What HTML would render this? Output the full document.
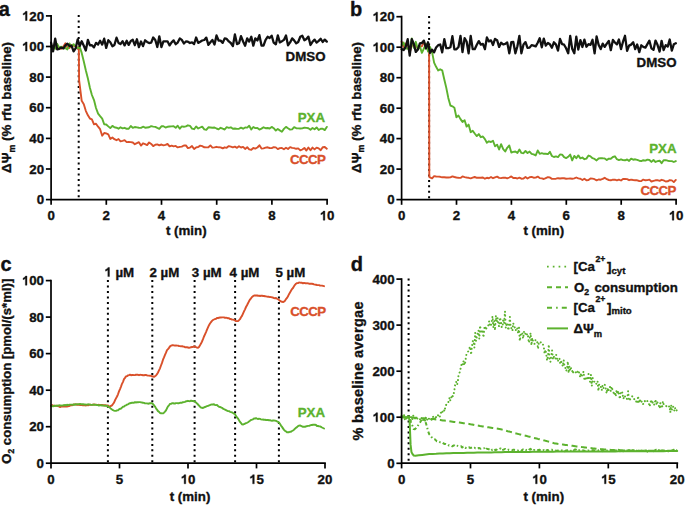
<!DOCTYPE html>
<html><head><meta charset="utf-8"><style>
html,body{margin:0;padding:0;background:#fff;width:685px;height:505px;overflow:hidden}
svg{display:block}
text{font-family:"Liberation Sans",sans-serif;font-weight:bold;stroke-width:0.35px;stroke-linejoin:round}
</style></head><body>
<svg width="685" height="505" viewBox="0 0 685 505" font-family="Liberation Sans, sans-serif" font-weight="bold">
<rect width="685" height="505" fill="#fff"/>
<line x1="78.7" y1="15.1" x2="78.7" y2="199.6" stroke="#000" stroke-width="2" stroke-dasharray="2 3.46"/>
<polyline points="51.1,46.5 53.1,45.8 55.2,47.1 57.2,48.6 59.3,47.6 61.3,48.8 63.4,46.4 65.4,43.3 67.4,47.7 69.5,48 71.5,45.3 73.6,45.7 75.6,46.3 77.7,48.7 78.8,46.5 79.1,80.2 81.7,100.8 83.8,104.2 85.8,110.8 87.9,115.3 89.9,118.5 91.9,119.3 94,124.4 96,123.7 98.1,126.7 100.1,129.2 102.2,135.7 104.2,133 106.2,133.4 108.3,134.3 110.3,139 112.4,137.5 114.4,139.2 116.5,140.2 118.5,139 120.5,141.3 122.6,140.8 124.6,140.2 126.7,142.1 128.7,142 130.8,142.1 132.8,142.5 134.8,144.2 136.9,143.2 138.9,142.2 141,145.6 143,143.3 145.1,144.2 147.1,145.1 149.1,142.4 151.2,143.9 153.2,146.1 155.3,144.8 157.3,144.4 159.3,145.3 161.4,144.5 163.4,145.4 165.5,144.8 167.5,144 169.6,146.4 171.6,145.6 173.6,146.4 175.7,145.9 177.7,147.4 179.8,146.9 181.8,146.6 183.9,145.5 185.9,145.4 187.9,148.1 190,147.6 192,146.1 194.1,149 196.1,147.4 198.2,147 200.2,145.6 202.2,146.2 204.3,147.3 206.3,147.4 208.4,147.3 210.4,145.4 212.4,147.6 214.5,147.4 216.5,146.8 218.6,147.3 220.6,147.4 222.7,148.4 224.7,147.3 226.7,147.8 228.8,146.1 230.8,146.6 232.9,147.4 234.9,146.7 237,147.8 239,146.3 241,147.5 243.1,146.9 245.1,148.9 247.2,147.2 249.2,149.4 251.3,149.8 253.3,148 255.3,148.6 257.4,147.5 259.4,145.3 261.5,148.6 263.5,148.4 265.6,147.6 267.6,147.3 269.6,148 271.7,148.1 273.7,147.2 275.8,147.4 277.8,149.1 279.8,148.1 281.9,148 283.9,149.2 286,147.8 288,149 290.1,147.1 292.1,147.9 294.1,148.1 296.2,148.8 298.2,148.4 300.3,150.4 302.3,149.5 304.4,147.9 306.4,150.6 308.4,147.5 310.5,150.3 312.5,147.6 314.6,149.4 316.6,147.6 318.7,148.4 320.7,150.2 322.7,147.2 324.8,147 326.8,148.7" fill="none" stroke="#d9502a" stroke-width="1.9" stroke-linejoin="round"  stroke-linecap="round"/>
<polyline points="51.1,47.1 53.1,46.9 55.2,48.8 57.2,43.9 59.3,47.8 61.3,46.6 63.4,48.4 65.4,48 67.4,49.5 69.5,43.5 71.5,46.9 73.6,44.2 75.6,46.5 77.7,48.1 79.7,46.9 81.7,52.9 83.8,61.4 85.8,70.3 87.9,78.5 89.9,87.8 91.9,95 94,100.1 96,108 98.1,113.7 100.1,116.2 102.2,118.6 104.2,124.3 106.2,124.5 108.3,126.4 110.3,128.1 112.4,125.9 114.4,127.3 116.5,127.7 118.5,128.7 120.5,127.3 122.6,128.3 124.6,127.8 126.7,128.8 128.7,128.8 130.8,126 132.8,127.9 134.8,127 136.9,127.4 138.9,127.8 141,127.9 143,126.7 145.1,127.7 147.1,127.5 149.1,127.3 151.2,126.1 153.2,126.6 155.3,126.9 157.3,127.9 159.3,128.8 161.4,126.3 163.4,126.3 165.5,127.5 167.5,126.8 169.6,126.5 171.6,126.4 173.6,126.3 175.7,127.8 177.7,125.7 179.8,128.7 181.8,126.4 183.9,126.8 185.9,126.4 187.9,125.3 190,125.8 192,128.6 194.1,129.2 196.1,126.5 198.2,128.5 200.2,127.5 202.2,126.6 204.3,129.3 206.3,129.8 208.4,127.3 210.4,127.5 212.4,127.8 214.5,127.5 216.5,128.5 218.6,129.3 220.6,127.8 222.7,128.7 224.7,129.5 226.7,127.2 228.8,127.8 230.8,127.3 232.9,128.8 234.9,128.5 237,128.9 239,128.8 241,127.6 243.1,128.7 245.1,127.5 247.2,127.6 249.2,125.8 251.3,129.5 253.3,127 255.3,128.1 257.4,128 259.4,129.6 261.5,128.6 263.5,127.3 265.6,128.2 267.6,128 269.6,128.5 271.7,126.9 273.7,128.2 275.8,130.6 277.8,129 279.8,130.4 281.9,131.7 283.9,128.9 286,126.9 288,128.3 290.1,129.6 292.1,129.4 294.1,127.2 296.2,128.2 298.2,128.4 300.3,128.5 302.3,128.4 304.4,127.6 306.4,127.9 308.4,128.3 310.5,129.7 312.5,128 314.6,129.3 316.6,127.4 318.7,130 320.7,128.8 322.7,128.7 324.8,130.1 326.8,126.9" fill="none" stroke="#5cb22e" stroke-width="1.9" stroke-linejoin="round"  stroke-linecap="round"/>
<polyline points="51.1,42.7 53.1,51.4 55.2,38.7 57.2,49.4 59.3,48.8 61.3,47.6 63.4,48.4 65.4,45.4 67.4,43.7 69.5,46.1 71.5,45.6 73.6,51.4 75.6,48.4 77.7,39.3 79.7,46 81.7,41.2 83.8,45.8 85.8,50.5 87.9,39.8 89.9,45.3 91.9,45.2 94,47.4 96,42.9 98.1,44.5 100.1,40.8 102.2,44.6 104.2,38.7 106.2,47.9 108.3,40.2 110.3,42.2 112.4,46.3 114.4,45 116.5,37.7 118.5,42.9 120.5,44.1 122.6,41.2 124.6,45.4 126.7,40.8 128.7,44.9 130.8,41 132.8,39.8 134.8,45.2 136.9,39.3 138.9,47.1 141,41.5 143,46.1 145.1,40.3 147.1,41.9 149.1,43 151.2,42.7 153.2,37.5 155.3,40 157.3,47 159.3,36.3 161.4,47 163.4,41.4 165.5,41.3 167.5,41.3 169.6,45.4 171.6,42.4 173.6,40.4 175.7,44.2 177.7,42.6 179.8,38.5 181.8,39.9 183.9,43.5 185.9,41.5 187.9,41.7 190,43 192,42.4 194.1,44 196.1,37.5 198.2,42.9 200.2,41.8 202.2,40.5 204.3,40 206.3,37.6 208.4,44.9 210.4,42.2 212.4,39.9 214.5,44.5 216.5,35.4 218.6,40.5 220.6,40.6 222.7,42.9 224.7,38.4 226.7,38.9 228.8,41.4 230.8,43 232.9,46 234.9,34.4 237,44.1 239,43.3 241,36.1 243.1,41.5 245.1,45.8 247.2,38.4 249.2,41.6 251.3,36.7 253.3,45.7 255.3,38.4 257.4,40.5 259.4,35.2 261.5,45.6 263.5,45.6 265.6,39.8 267.6,36.8 269.6,38.1 271.7,35.7 273.7,42.7 275.8,44.4 277.8,35.4 279.8,42.4 281.9,41.2 283.9,39.9 286,35.5 288,45.3 290.1,42.4 292.1,38.4 294.1,40.4 296.2,43.4 298.2,42 300.3,36.8 302.3,35.7 304.4,40.3 306.4,39 308.4,36.6 310.5,45 312.5,41.8 314.6,39.6 316.6,42.6 318.7,40.9 320.7,38.8 322.7,42 324.8,39.6 326.8,41.6" fill="none" stroke="#111" stroke-width="2.3" stroke-linejoin="round"  stroke-linecap="round"/>
<path d="M51.1 15.9 V199.6 H327.1" fill="none" stroke="#000" stroke-width="1.7" stroke-linecap="square"/>
<line x1="51.1" y1="199.6" x2="51.1" y2="204.8" stroke="#000" stroke-width="1.7"/>
<text x="51.1" y="220.2" text-anchor="middle" font-size="13.3" fill="#111" stroke="#111" >0</text>
<line x1="106.3" y1="199.6" x2="106.3" y2="204.8" stroke="#000" stroke-width="1.7"/>
<text x="106.3" y="220.2" text-anchor="middle" font-size="13.3" fill="#111" stroke="#111" >2</text>
<line x1="161.5" y1="199.6" x2="161.5" y2="204.8" stroke="#000" stroke-width="1.7"/>
<text x="161.5" y="220.2" text-anchor="middle" font-size="13.3" fill="#111" stroke="#111" >4</text>
<line x1="216.7" y1="199.6" x2="216.7" y2="204.8" stroke="#000" stroke-width="1.7"/>
<text x="216.7" y="220.2" text-anchor="middle" font-size="13.3" fill="#111" stroke="#111" >6</text>
<line x1="271.9" y1="199.6" x2="271.9" y2="204.8" stroke="#000" stroke-width="1.7"/>
<text x="271.9" y="220.2" text-anchor="middle" font-size="13.3" fill="#111" stroke="#111" >8</text>
<line x1="327.1" y1="199.6" x2="327.1" y2="204.8" stroke="#000" stroke-width="1.7"/>
<path transform="translate(319.70,220.20) scale(0.00649,-0.00649)" d="M800 0H545V1020Q400 900 185 840V1080Q300 1120 410 1210Q520 1300 560 1409H800Z" fill="#111" stroke="#111" stroke-width="53.9" stroke-linejoin="round"/>
<text x="327.1" y="220.2" text-anchor="middle" font-size="13.3" fill="#111" stroke="#111" >&#8199;0</text>
<line x1="45.9" y1="199.6" x2="51.1" y2="199.6" stroke="#000" stroke-width="1.7"/>
<text x="44.1" y="204.2" text-anchor="end" font-size="13.3" fill="#111" stroke="#111" >0</text>
<line x1="45.9" y1="169" x2="51.1" y2="169" stroke="#000" stroke-width="1.7"/>
<text x="44.1" y="173.6" text-anchor="end" font-size="13.3" fill="#111" stroke="#111" >20</text>
<line x1="45.9" y1="138.4" x2="51.1" y2="138.4" stroke="#000" stroke-width="1.7"/>
<text x="44.1" y="143" text-anchor="end" font-size="13.3" fill="#111" stroke="#111" >40</text>
<line x1="45.9" y1="107.7" x2="51.1" y2="107.7" stroke="#000" stroke-width="1.7"/>
<text x="44.1" y="112.3" text-anchor="end" font-size="13.3" fill="#111" stroke="#111" >60</text>
<line x1="45.9" y1="77.1" x2="51.1" y2="77.1" stroke="#000" stroke-width="1.7"/>
<text x="44.1" y="81.7" text-anchor="end" font-size="13.3" fill="#111" stroke="#111" >80</text>
<line x1="45.9" y1="46.5" x2="51.1" y2="46.5" stroke="#000" stroke-width="1.7"/>
<path transform="translate(21.91,51.10) scale(0.00649,-0.00649)" d="M800 0H545V1020Q400 900 185 840V1080Q300 1120 410 1210Q520 1300 560 1409H800Z" fill="#111" stroke="#111" stroke-width="53.9" stroke-linejoin="round"/>
<text x="44.1" y="51.1" text-anchor="end" font-size="13.3" fill="#111" stroke="#111" >&#8199;00</text>
<line x1="45.9" y1="15.9" x2="51.1" y2="15.9" stroke="#000" stroke-width="1.7"/>
<path transform="translate(21.91,20.48) scale(0.00649,-0.00649)" d="M800 0H545V1020Q400 900 185 840V1080Q300 1120 410 1210Q520 1300 560 1409H800Z" fill="#111" stroke="#111" stroke-width="53.9" stroke-linejoin="round"/>
<text x="44.1" y="20.5" text-anchor="end" font-size="13.3" fill="#111" stroke="#111" >&#8199;20</text>
<text x="186.3" y="235.4" text-anchor="middle" font-size="13.3" fill="#111" stroke="#111" >t (min)</text>
<text x="325.5" y="61.3" text-anchor="end" font-size="13.3" fill="#111" stroke="#111" >DMSO</text>
<text x="325" y="122.4" text-anchor="end" font-size="13.3" fill="#5cb22e" stroke="#5cb22e" >PXA</text>
<text x="325.4" y="164.3" text-anchor="end" font-size="13.3" fill="#d9502a" stroke="#d9502a" letter-spacing="-0.55">CCCP</text>
<text stroke="#111" fill="#111" transform="translate(11.2,172.9) rotate(-90)" font-size="13.3">&#916;&#936;<tspan font-size="8.8" dy="3.6">m</tspan><tspan dy="-3.6"> (% rfu baseline)</tspan></text>
<text x="-1.2" y="15.8" text-anchor="start" font-size="20" fill="#111" stroke="#111" >a</text>
<line x1="429.1" y1="16.1" x2="429.1" y2="199.6" stroke="#000" stroke-width="2" stroke-dasharray="2 3.46"/>
<polyline points="401.6,41.7 403.6,46.9 405.7,43.6 407.7,44.6 409.7,52.8 411.8,45 413.8,45.8 415.8,45.4 417.9,48.6 419.9,46.4 421.9,46.2 423.9,42.4 426,44.8 428,45.7 429.1,45.7 429.3,177 429.9,177.3 432.1,178.4 434.1,176.1 436.1,176.5 438.2,176.6 440.2,176.8 442.2,177.3 444.3,177.2 446.3,177.5 448.3,177.5 450.4,177.4 452.4,176.4 454.4,177 456.4,177.5 458.5,177.8 460.5,177.9 462.5,176.4 464.6,177.1 466.6,177.5 468.6,177.8 470.7,178.3 472.7,177.6 474.7,177 476.8,177.8 478.8,177.7 480.8,177.7 482.9,177.5 484.9,178.7 486.9,177.8 488.9,178.2 491,177 493,178.2 495,177.3 497.1,176.6 499.1,177.9 501.1,178.1 503.2,177.6 505.2,177.7 507.2,178.4 509.3,177.5 511.3,176.4 513.3,178 515.4,177.9 517.4,178.5 519.4,177.6 521.4,178.7 523.5,178.6 525.5,177 527.5,178.5 529.6,177.2 531.6,176.9 533.6,177.7 535.7,177.6 537.7,176.6 539.7,178.1 541.8,178.4 543.8,179 545.8,178.1 547.9,177.1 549.9,177.5 551.9,178.9 553.9,178.9 556,178.7 558,178.2 560,178.5 562.1,178.3 564.1,178.3 566.1,178.7 568.2,178.6 570.2,178.5 572.2,178.7 574.3,178.4 576.3,177.5 578.3,178.4 580.4,178.8 582.4,180 584.4,178.7 586.4,180.3 588.5,180 590.5,178.5 592.5,178.6 594.6,179.2 596.6,180.4 598.6,179.5 600.7,179.7 602.7,178.9 604.7,177.8 606.8,179.2 608.8,180 610.8,180.3 612.9,179.6 614.9,179.7 616.9,180.4 618.9,179.6 621,180.5 623,179 625,179 627.1,179.1 629.1,180.2 631.1,179.6 633.2,180 635.2,180.3 637.2,180.3 639.3,181 641.3,181.1 643.3,179.6 645.4,180.3 647.4,180.1 649.4,179.6 651.4,181.5 653.5,180.9 655.5,180.3 657.5,180.2 659.6,180.8 661.6,179.8 663.6,180.4 665.7,181.5 667.7,181.3 669.7,180.2 671.8,180.4 673.8,182.1 675.8,179.9" fill="none" stroke="#d9502a" stroke-width="1.9" stroke-linejoin="round"  stroke-linecap="round"/>
<polyline points="401.6,45.1 403.6,42.6 405.7,48.5 407.7,48.2 409.7,51.1 411.8,38.5 413.8,47.8 415.8,41.8 417.9,49.4 419.9,46.6 421.9,52.9 423.9,48.5 426,43.8 428,51.5 430,46.9 432.1,52.1 434.1,62.6 436.1,66.8 438.2,70.4 440.2,69.3 442.2,70.3 444.3,79.5 446.3,87.9 448.3,97.9 450.4,105.5 452.4,106.3 454.4,107.7 456.4,117.3 458.5,115.6 460.5,119.1 462.5,121.9 464.6,120.2 466.6,126.6 468.6,124.6 470.7,132.2 472.7,130.7 474.7,133.5 476.8,136.1 478.8,134.1 480.8,137.2 482.9,136.5 484.9,139.1 486.9,142.7 488.9,141.3 491,142 493,140.8 495,146.3 497.1,144.7 499.1,149.5 501.1,144.2 503.2,149.1 505.2,151.5 507.2,147.8 509.3,145.5 511.3,152.5 513.3,151.9 515.4,151.5 517.4,152.9 519.4,149.6 521.4,152.9 523.5,153.2 525.5,151 527.5,153 529.6,151.6 531.6,153.8 533.6,154.3 535.7,155.4 537.7,150.5 539.7,153.8 541.8,153.2 543.8,153.8 545.8,153.7 547.9,154.1 549.9,151.8 551.9,156 553.9,157 556,156.4 558,157.1 560,154.5 562.1,154.6 564.1,157.2 566.1,158.1 568.2,156.8 570.2,154.5 572.2,160.4 574.3,155.9 576.3,158.2 578.3,155.4 580.4,158.4 582.4,157.5 584.4,159.2 586.4,158.6 588.5,155.5 590.5,156.4 592.5,158.2 594.6,158.9 596.6,160.4 598.6,158.5 600.7,158.1 602.7,158.3 604.7,158.4 606.8,160 608.8,158.6 610.8,158.7 612.9,157 614.9,156.3 616.9,159.2 618.9,160.1 621,159.3 623,160.1 625,160.3 627.1,159.5 629.1,160.9 631.1,158.7 633.2,159.7 635.2,159.3 637.2,159.9 639.3,160.7 641.3,161.1 643.3,160.2 645.4,160.6 647.4,159.6 649.4,160 651.4,161.9 653.5,160 655.5,162 657.5,161.1 659.6,160.7 661.6,163.2 663.6,160.3 665.7,160.2 667.7,160.7 669.7,161.1 671.8,161.1 673.8,162 675.8,161.1" fill="none" stroke="#5cb22e" stroke-width="1.9" stroke-linejoin="round"  stroke-linecap="round"/>
<polyline points="401.6,49.1 403.6,50 405.7,46.8 407.7,39.2 409.7,55.6 411.8,39.1 413.8,43.9 415.8,51.9 417.9,49.4 419.9,43.4 421.9,43 423.9,40.6 426,48.5 428,42.3 430,53 432.1,49.7 434.1,52.3 436.1,47.5 438.2,45.2 440.2,44.5 442.2,52.4 444.3,39.1 446.3,48.2 448.3,48.2 450.4,47.3 452.4,36.1 454.4,49.3 456.4,49.3 458.5,47 460.5,35.8 462.5,52 464.6,38.2 466.6,41.5 468.6,53.3 470.7,35.8 472.7,49.1 474.7,49.2 476.8,44.7 478.8,41.1 480.8,44.6 482.9,43.9 484.9,49.2 486.9,37.5 488.9,41.4 491,40.4 493,45 495,38.9 497.1,40.2 499.1,46.9 501.1,42.7 503.2,44.5 505.2,43.9 507.2,42.4 509.3,53.3 511.3,42.2 513.3,42 515.4,53.3 517.4,46.2 519.4,35.8 521.4,53.3 523.5,44.4 525.5,42.1 527.5,47.9 529.6,47.6 531.6,45.1 533.6,45.6 535.7,46.4 537.7,42.7 539.7,38.2 541.8,47.3 543.8,38.6 545.8,45.6 547.9,43 549.9,44.3 551.9,47.7 553.9,42.3 556,44.6 558,50.6 560,38.9 562.1,44.2 564.1,44.7 566.1,48.3 568.2,53.3 570.2,35.8 572.2,48.8 574.3,53.3 576.3,36.7 578.3,49.6 580.4,40.1 582.4,47 584.4,39.6 586.4,46.7 588.5,44.2 590.5,44.9 592.5,39.8 594.6,53.3 596.6,36.5 598.6,44.7 600.7,49.1 602.7,43.6 604.7,46.9 606.8,43.6 608.8,40.9 610.8,50.2 612.9,39.9 614.9,42.5 616.9,44.4 618.9,39.5 621,49.1 623,41.7 625,35.8 627.1,50.8 629.1,45.6 631.1,44.6 633.2,42.3 635.2,49.1 637.2,44.5 639.3,52.1 641.3,45.3 643.3,46.9 645.4,47.6 647.4,44.1 649.4,40.7 651.4,48.3 653.5,49.9 655.5,40.6 657.5,44.8 659.6,51.6 661.6,40.8 663.6,50.1 665.7,45.1 667.7,46.6 669.7,39.5 671.8,50.6 673.8,44.3 675.8,43.3" fill="none" stroke="#111" stroke-width="2.3" stroke-linejoin="round"  stroke-linecap="round"/>
<path d="M401.6 16.7 V199.6 H676.1" fill="none" stroke="#000" stroke-width="1.7" stroke-linecap="square"/>
<line x1="401.6" y1="199.6" x2="401.6" y2="204.8" stroke="#000" stroke-width="1.7"/>
<text x="401.6" y="220.2" text-anchor="middle" font-size="13.3" fill="#111" stroke="#111" >0</text>
<line x1="456.5" y1="199.6" x2="456.5" y2="204.8" stroke="#000" stroke-width="1.7"/>
<text x="456.5" y="220.2" text-anchor="middle" font-size="13.3" fill="#111" stroke="#111" >2</text>
<line x1="511.4" y1="199.6" x2="511.4" y2="204.8" stroke="#000" stroke-width="1.7"/>
<text x="511.4" y="220.2" text-anchor="middle" font-size="13.3" fill="#111" stroke="#111" >4</text>
<line x1="566.3" y1="199.6" x2="566.3" y2="204.8" stroke="#000" stroke-width="1.7"/>
<text x="566.3" y="220.2" text-anchor="middle" font-size="13.3" fill="#111" stroke="#111" >6</text>
<line x1="621.2" y1="199.6" x2="621.2" y2="204.8" stroke="#000" stroke-width="1.7"/>
<text x="621.2" y="220.2" text-anchor="middle" font-size="13.3" fill="#111" stroke="#111" >8</text>
<line x1="676.1" y1="199.6" x2="676.1" y2="204.8" stroke="#000" stroke-width="1.7"/>
<path transform="translate(668.70,220.20) scale(0.00649,-0.00649)" d="M800 0H545V1020Q400 900 185 840V1080Q300 1120 410 1210Q520 1300 560 1409H800Z" fill="#111" stroke="#111" stroke-width="53.9" stroke-linejoin="round"/>
<text x="676.1" y="220.2" text-anchor="middle" font-size="13.3" fill="#111" stroke="#111" >&#8199;0</text>
<line x1="396.4" y1="199.6" x2="401.6" y2="199.6" stroke="#000" stroke-width="1.7"/>
<text x="394.6" y="204.2" text-anchor="end" font-size="13.3" fill="#111" stroke="#111" >0</text>
<line x1="396.4" y1="169.1" x2="401.6" y2="169.1" stroke="#000" stroke-width="1.7"/>
<text x="394.6" y="173.7" text-anchor="end" font-size="13.3" fill="#111" stroke="#111" >20</text>
<line x1="396.4" y1="138.6" x2="401.6" y2="138.6" stroke="#000" stroke-width="1.7"/>
<text x="394.6" y="143.2" text-anchor="end" font-size="13.3" fill="#111" stroke="#111" >40</text>
<line x1="396.4" y1="108.2" x2="401.6" y2="108.2" stroke="#000" stroke-width="1.7"/>
<text x="394.6" y="112.8" text-anchor="end" font-size="13.3" fill="#111" stroke="#111" >60</text>
<line x1="396.4" y1="77.7" x2="401.6" y2="77.7" stroke="#000" stroke-width="1.7"/>
<text x="394.6" y="82.3" text-anchor="end" font-size="13.3" fill="#111" stroke="#111" >80</text>
<line x1="396.4" y1="47.2" x2="401.6" y2="47.2" stroke="#000" stroke-width="1.7"/>
<path transform="translate(372.41,51.80) scale(0.00649,-0.00649)" d="M800 0H545V1020Q400 900 185 840V1080Q300 1120 410 1210Q520 1300 560 1409H800Z" fill="#111" stroke="#111" stroke-width="53.9" stroke-linejoin="round"/>
<text x="394.6" y="51.8" text-anchor="end" font-size="13.3" fill="#111" stroke="#111" >&#8199;00</text>
<line x1="396.4" y1="16.7" x2="401.6" y2="16.7" stroke="#000" stroke-width="1.7"/>
<path transform="translate(372.41,21.32) scale(0.00649,-0.00649)" d="M800 0H545V1020Q400 900 185 840V1080Q300 1120 410 1210Q520 1300 560 1409H800Z" fill="#111" stroke="#111" stroke-width="53.9" stroke-linejoin="round"/>
<text x="394.6" y="21.3" text-anchor="end" font-size="13.3" fill="#111" stroke="#111" >&#8199;20</text>
<text x="543.8" y="235.4" text-anchor="middle" font-size="13.3" fill="#111" stroke="#111" >t (min)</text>
<text x="676.5" y="66.6" text-anchor="end" font-size="13.3" fill="#111" stroke="#111" >DMSO</text>
<text x="676.5" y="153.4" text-anchor="end" font-size="13.3" fill="#5cb22e" stroke="#5cb22e" >PXA</text>
<text x="675.9" y="194.8" text-anchor="end" font-size="13.3" fill="#d9502a" stroke="#d9502a" letter-spacing="-0.55">CCCP</text>
<text stroke="#111" fill="#111" transform="translate(360.5,172.9) rotate(-90)" font-size="13.3">&#916;&#936;<tspan font-size="8.8" dy="3.6">m</tspan><tspan dy="-3.6"> (% rfu baseline)</tspan></text>
<text x="350.1" y="15.6" text-anchor="start" font-size="20" fill="#111" stroke="#111" >b</text>
<line x1="107.9" y1="280.1" x2="107.9" y2="463.2" stroke="#000" stroke-width="2" stroke-dasharray="2 3.46"/>
<line x1="152.3" y1="280.1" x2="152.3" y2="463.2" stroke="#000" stroke-width="2" stroke-dasharray="2 3.46"/>
<line x1="194.6" y1="280.1" x2="194.6" y2="463.2" stroke="#000" stroke-width="2" stroke-dasharray="2 3.46"/>
<line x1="235.1" y1="280.1" x2="235.1" y2="463.2" stroke="#000" stroke-width="2" stroke-dasharray="2 3.46"/>
<line x1="278.9" y1="280.1" x2="278.9" y2="463.2" stroke="#000" stroke-width="2" stroke-dasharray="2 3.46"/>
<polyline points="51,405.7 52,405 53,405.6 54,405.6 55,405.8 56,405.9 57,405.7 58,406.2 59,406.2 60,407.1 61,406.6 62,406.5 63,406.6 64,406.6 65,406.5 66,406.6 67,406.6 68,406.2 69,406.1 70,405.6 71,405.4 72,405.3 73,404.9 74,404.4 75,404.4 76,404.5 77,404.8 78,404.5 79,404.7 80,405 81,404.8 82,405.1 83,405.4 84,405.4 85,405.4 86,405.5 87,404.8 88,405.4 89,404.9 90,404.7 91,404.9 92,404.9 93,404.6 94,404.4 95,404.6 96,404.6 97,404.9 98,404.9 99,404.8 100,405.1 101,404.9 102,404.9 103,405.2 104,405.3 105,405.3 106,405.3 107,405.7 108,405.5 109,406.4 110,406.6 111,405.9 112,405.4 113,404 114,402.7 115,400.3 116,398.4 117,396.5 118,394.3 119,391.4 120,389.1 121,386.6 122,383.8 123,381.8 124,379.2 125,377.9 126,376.4 127,376.1 128,375.4 129,375.1 130,374.6 131,375.2 132,375 133,375 134,375.1 135,375 136,374.8 137,374.8 138,374.8 139,375.2 140,374.8 141,374.9 142,375 143,375.2 144,375.3 145,375 146,375 147,375.3 148,375.6 149,375.6 150,375.7 151,375.8 152,376.3 153,376.5 154,376.9 155,376.2 156,375.5 157,374.2 158,372.5 159,370.3 160,368.3 161,365.5 162,362.9 163,359.7 164,357.4 165,354.9 166,352.7 167,350.2 168,349.2 169,347.9 170,346.4 171,345.7 172,345.3 173,345.3 174,345.4 175,345.7 176,345.4 177,345.6 178,345.6 179,346 180,346.1 181,346.4 182,346.1 183,346.5 184,346.6 185,347.2 186,347.3 187,347.3 188,347.5 189,347.8 190,347.6 191,347.2 192,347 193,347 194,346.4 195,346.7 196,347.2 197,347.6 198,347.7 199,346.9 200,345.3 201,343.6 202,341.5 203,339.2 204,336.5 205,334.3 206,332.1 207,329.6 208,327.4 209,325.2 210,323.5 211,322.2 212,320.9 213,320 214,319.5 215,319 216,318.9 217,317.9 218,318.2 219,317.7 220,317.5 221,317.5 222,317.4 223,317.4 224,317.4 225,317.9 226,317.7 227,317.9 228,318.3 229,318.2 230,319 231,319 232,319.6 233,319.6 234,319.9 235,320.5 236,321.1 237,321.1 238,321.1 239,320.2 240,319.2 241,317.3 242,315.9 243,313.6 244,311.4 245,309.3 246,307 247,305.2 248,303.3 249,301.3 250,299.6 251,298.3 252,297 253,296.2 254,295.7 255,295.3 256,295.7 257,295.3 258,295.8 259,295.7 260,296 261,295.8 262,295.7 263,296 264,296 265,296.2 266,296.4 267,296.6 268,296.7 269,296.8 270,297.1 271,297 272,297.5 273,297.5 274,298.1 275,298.3 276,298 277,298.7 278,299.3 279,299.9 280,300.9 281,301.5 282,301.7 283,302.1 284,301.6 285,300.7 286,299.1 287,297.9 288,296.3 289,294.2 290,292.5 291,290.8 292,289.1 293,288 294,286.3 295,284.8 296,283.7 297,283.1 298,283.1 299,282.5 300,282.6 301,282.8 302,282.8 303,283.3 304,282.9 305,283.2 306,283.2 307,283.4 308,283.2 309,283.8 310,283.6 311,283.8 312,283.8 313,284 314,284.4 315,284.6 316,284.8 317,285 318,285.1 319,285.1 320,285.5 321,285.6 322,285.6 323,285.9 324,286.2" fill="none" stroke="#d9502a" stroke-width="1.9" stroke-linejoin="round"  stroke-linecap="round"/>
<polyline points="51,406 52,406.1 53,406.3 54,406.1 55,405.6 56,405.8 57,405.6 58,405.7 59,405.3 60,405.5 61,405.5 62,405.6 63,405.3 64,405.3 65,404.9 66,405.5 67,404.7 68,405.1 69,404.8 70,404.6 71,404.6 72,404.6 73,404.7 74,404.5 75,404.8 76,404.1 77,404.4 78,404.2 79,404.4 80,403.9 81,404.2 82,404.3 83,404.1 84,404.5 85,404.4 86,404.6 87,404.7 88,404.3 89,404.4 90,404.6 91,404.8 92,404.9 93,404.7 94,404.8 95,404.8 96,404.9 97,405 98,405.1 99,405.6 100,405.2 101,405.3 102,405.5 103,405.4 104,405.6 105,405.7 106,405.9 107,405.7 108,406.6 109,406.9 110,407.8 111,408.8 112,409.5 113,410.2 114,410.6 115,410.9 116,410.9 117,410.4 118,410.3 119,409.4 120,408.7 121,408.7 122,407.6 123,406.7 124,406.6 125,405.6 126,405.3 127,404.6 128,404.3 129,403.6 130,403.2 131,403 132,402.8 133,402.7 134,402.8 135,402.1 136,402.5 137,402.2 138,402.3 139,402.1 140,402.1 141,402.4 142,402.5 143,402.8 144,402.9 145,403.4 146,403.4 147,403.4 148,403.7 149,403.5 150,403.3 151,403.1 152,403.3 153,404.1 154,405.2 155,406.6 156,408.3 157,409.6 158,411.1 159,411.8 160,413 161,413.2 162,413.4 163,413.4 164,412.7 165,411.7 166,410.4 167,408.3 168,406.4 169,405.3 170,403.9 171,403.9 172,403.2 173,403.1 174,403.5 175,403.5 176,403.1 177,403.1 178,403.2 179,403.2 180,402.8 181,402.7 182,402.7 183,402.2 184,402.1 185,401.9 186,401.3 187,401.2 188,400.8 189,401.1 190,401.2 191,400.6 192,401 193,401 194,401.1 195,401.8 196,402.6 197,403.4 198,404.5 199,405.6 200,406.7 201,407.6 202,407.8 203,408 204,407.4 205,407 206,406.6 207,406.2 208,405.8 209,405.5 210,405 211,404.7 212,404.4 213,404.5 214,404.3 215,405 216,405.1 217,405 218,406 219,406.8 220,407 221,407.4 222,407.8 223,408.7 224,409.2 225,409.6 226,410.1 227,410.7 228,411.1 229,411.1 230,411.8 231,412.1 232,412.4 233,413 234,413.6 235,414.1 236,416.1 237,417.3 238,418.6 239,420.2 240,421.9 241,423 242,424.3 243,424.5 244,424.2 245,423.6 246,423.1 247,422.8 248,422.2 249,421.5 250,420.8 251,420 252,419.7 253,419.3 254,418.4 255,418.7 256,418.2 257,418.7 258,419 259,418.8 260,418.9 261,419.4 262,419.6 263,419.5 264,419.9 265,419.6 266,420.1 267,419.9 268,420 269,420.2 270,420.2 271,420.6 272,420.7 273,420.5 274,420.5 275,420.6 276,420.9 277,421.4 278,421.8 279,422.6 280,423.9 281,425.6 282,426.9 283,428.4 284,429.9 285,430.8 286,431.3 287,432.3 288,432.3 289,432.3 290,431.7 291,431.7 292,431 293,430.5 294,429.7 295,428.7 296,427.8 297,427.1 298,426.1 299,425.6 300,425.5 301,425.9 302,426.3 303,426.8 304,426.6 305,426.8 306,426.3 307,426.2 308,425.9 309,425.9 310,425.5 311,425 312,425 313,424.8 314,424.7 315,424.8 316,425 317,426 318,425.9 319,426.4 320,426.4 321,426.9 322,427.5 323,428 324,428.5" fill="none" stroke="#5cb22e" stroke-width="1.9" stroke-linejoin="round"  stroke-linecap="round"/>
<path d="M51 280.6 V463.2 H325" fill="none" stroke="#000" stroke-width="1.7" stroke-linecap="square"/>
<line x1="51" y1="463.2" x2="51" y2="468.4" stroke="#000" stroke-width="1.7"/>
<text x="51" y="483.8" text-anchor="middle" font-size="13.3" fill="#111" stroke="#111" >0</text>
<line x1="119.5" y1="463.2" x2="119.5" y2="468.4" stroke="#000" stroke-width="1.7"/>
<text x="119.5" y="483.8" text-anchor="middle" font-size="13.3" fill="#111" stroke="#111" >5</text>
<line x1="188" y1="463.2" x2="188" y2="468.4" stroke="#000" stroke-width="1.7"/>
<path transform="translate(180.60,483.80) scale(0.00649,-0.00649)" d="M800 0H545V1020Q400 900 185 840V1080Q300 1120 410 1210Q520 1300 560 1409H800Z" fill="#111" stroke="#111" stroke-width="53.9" stroke-linejoin="round"/>
<text x="188" y="483.8" text-anchor="middle" font-size="13.3" fill="#111" stroke="#111" >&#8199;0</text>
<line x1="256.5" y1="463.2" x2="256.5" y2="468.4" stroke="#000" stroke-width="1.7"/>
<path transform="translate(249.10,483.80) scale(0.00649,-0.00649)" d="M800 0H545V1020Q400 900 185 840V1080Q300 1120 410 1210Q520 1300 560 1409H800Z" fill="#111" stroke="#111" stroke-width="53.9" stroke-linejoin="round"/>
<text x="256.5" y="483.8" text-anchor="middle" font-size="13.3" fill="#111" stroke="#111" >&#8199;5</text>
<line x1="325" y1="463.2" x2="325" y2="468.4" stroke="#000" stroke-width="1.7"/>
<text x="325" y="483.8" text-anchor="middle" font-size="13.3" fill="#111" stroke="#111" >20</text>
<line x1="45.8" y1="463.2" x2="51" y2="463.2" stroke="#000" stroke-width="1.7"/>
<text x="44" y="467.8" text-anchor="end" font-size="13.3" fill="#111" stroke="#111" >0</text>
<line x1="45.8" y1="426.7" x2="51" y2="426.7" stroke="#000" stroke-width="1.7"/>
<text x="44" y="431.3" text-anchor="end" font-size="13.3" fill="#111" stroke="#111" >20</text>
<line x1="45.8" y1="390.2" x2="51" y2="390.2" stroke="#000" stroke-width="1.7"/>
<text x="44" y="394.8" text-anchor="end" font-size="13.3" fill="#111" stroke="#111" >40</text>
<line x1="45.8" y1="353.6" x2="51" y2="353.6" stroke="#000" stroke-width="1.7"/>
<text x="44" y="358.2" text-anchor="end" font-size="13.3" fill="#111" stroke="#111" >60</text>
<line x1="45.8" y1="317.1" x2="51" y2="317.1" stroke="#000" stroke-width="1.7"/>
<text x="44" y="321.7" text-anchor="end" font-size="13.3" fill="#111" stroke="#111" >80</text>
<line x1="45.8" y1="280.6" x2="51" y2="280.6" stroke="#000" stroke-width="1.7"/>
<path transform="translate(21.81,285.20) scale(0.00649,-0.00649)" d="M800 0H545V1020Q400 900 185 840V1080Q300 1120 410 1210Q520 1300 560 1409H800Z" fill="#111" stroke="#111" stroke-width="53.9" stroke-linejoin="round"/>
<text x="44" y="285.2" text-anchor="end" font-size="13.3" fill="#111" stroke="#111" >&#8199;00</text>
<text x="190" y="501.4" text-anchor="middle" font-size="13.3" fill="#111" stroke="#111" >t (min)</text>
<path transform="translate(104.30,276.60) scale(0.00649,-0.00649)" d="M800 0H545V1020Q400 900 185 840V1080Q300 1120 410 1210Q520 1300 560 1409H800Z" fill="#111" stroke="#111" stroke-width="53.9" stroke-linejoin="round"/>
<text x="104.3" y="276.6" text-anchor="start" font-size="13.3" fill="#111" stroke="#111" >&#8199; &#181;M</text>
<text x="149.5" y="276.6" text-anchor="start" font-size="13.3" fill="#111" stroke="#111" >2 &#181;M</text>
<text x="191.8" y="276.6" text-anchor="start" font-size="13.3" fill="#111" stroke="#111" >3 &#181;M</text>
<text x="229.6" y="276.6" text-anchor="start" font-size="13.3" fill="#111" stroke="#111" >4 &#181;M</text>
<text x="275.5" y="276.6" text-anchor="start" font-size="13.3" fill="#111" stroke="#111" >5 &#181;M</text>
<text x="325.7" y="316.1" text-anchor="end" font-size="13.3" fill="#d9502a" stroke="#d9502a" letter-spacing="-0.55">CCCP</text>
<text x="325" y="416.5" text-anchor="end" font-size="13.3" fill="#5cb22e" stroke="#5cb22e" >PXA</text>
<text stroke="#111" fill="#111" transform="translate(10.8,463.8) rotate(-90)" font-size="13.15">O<tspan font-size="8.5" dy="3.4">2</tspan><tspan dy="-3.4"> consumption [pmol/(s*ml)]</tspan></text>
<text x="0.4" y="270.6" text-anchor="start" font-size="20" fill="#111" stroke="#111" >c</text>
<line x1="408.6" y1="278.5" x2="408.6" y2="463.2" stroke="#000" stroke-width="2" stroke-dasharray="2 3.46"/>
<polyline points="401.6,417.2 402.3,417.2 403,417.2 403.7,417.2 404.4,417.2 405,417.2 405.7,417.2 406.4,417.2 407.1,417.2 407.8,417.2 408.8,417.2 409.6,420.9 410.6,444.9 411.5,452.1 412.6,454.2 413.7,455.5 415.4,455.7 418.8,455.3 422.3,454.9 425.7,454.5 429.2,454.1 432.6,453.9 436.1,453.8 439.5,453.6 442.9,453.5 446.4,453.3 449.8,453.2 453.3,453.1 456.7,453 460.2,452.9 463.6,452.9 467.1,452.8 470.5,452.7 473.9,452.7 477.4,452.6 480.8,452.5 484.3,452.5 487.7,452.4 491.2,452.4 494.6,452.3 498.1,452.2 501.5,452.2 505,452.1 508.4,452.1 511.8,452 515.3,452 518.7,452 522.2,451.9 525.6,451.9 529.1,451.9 532.5,451.8 536,451.8 539.4,451.8 542.8,451.8 546.3,451.7 549.7,451.7 553.2,451.7 556.6,451.6 560.1,451.6 563.5,451.6 567,451.6 570.4,451.5 573.9,451.5 577.3,451.5 580.7,451.5 584.2,451.5 587.6,451.5 591.1,451.5 594.5,451.4 598,451.4 601.4,451.4 604.9,451.4 608.3,451.4 611.7,451.4 615.2,451.4 618.6,451.3 622.1,451.3 625.5,451.3 629,451.3 632.4,451.3 635.9,451.3 639.3,451.3 642.8,451.2 646.2,451.2 649.6,451.2 653.1,451.2 656.5,451.2 660,451.2 663.4,451.2 666.9,451.1 670.3,451.1 673.8,451.1 677.2,451.1" fill="none" stroke="#5cb22e" stroke-width="2.0" stroke-linejoin="round"  stroke-linecap="round"/>
<polyline points="401.6,417.2 403,417.3 404.4,417.3 405.7,417.4 407.1,417.4 408.5,417.5 409.9,417.5 411.2,417.6 412.6,417.6 414,417.7 415.4,417.7 416.8,417.8 418.1,417.9 419.5,418 420.9,418.1 422.3,418.2 423.6,418.3 425,418.4 426.4,418.5 427.8,418.6 429.2,418.7 430.5,418.9 431.9,419 433.3,419.1 434.7,419.3 436.1,419.5 437.4,419.6 438.8,419.8 440.2,420 441.6,420.2 442.9,420.4 444.3,420.6 445.7,420.8 447.1,421 448.5,421.1 449.8,421.3 451.2,421.5 452.6,421.7 454,421.9 455.3,422.1 456.7,422.3 458.1,422.4 459.5,422.6 460.9,422.8 462.2,423 463.6,423.2 465,423.4 466.4,423.6 467.7,423.7 469.1,423.9 470.5,424.2 471.9,424.4 473.3,424.7 474.6,425 476,425.2 477.4,425.5 478.8,425.7 480.1,426 481.5,426.2 482.9,426.4 484.3,426.6 485.7,426.9 487,427.1 488.4,427.3 489.8,427.5 491.2,427.7 492.5,427.9 493.9,428.1 495.3,428.4 496.7,428.6 498.1,428.8 499.4,429 500.8,429.2 502.2,429.6 503.6,430 505,430.4 506.3,430.8 507.7,431.2 509.1,431.5 510.5,431.9 511.8,432.3 513.2,432.7 514.6,433.1 516,433.4 517.4,433.8 518.7,434.1 520.1,434.4 521.5,434.8 522.9,435.1 524.2,435.5 525.6,435.8 527,436.1 528.4,436.5 529.8,436.8 531.1,437.2 532.5,437.5 533.9,437.9 535.3,438.2 536.6,438.5 538,438.9 539.4,439.2 540.8,439.6 542.2,439.9 543.5,440.3 544.9,440.6 546.3,441 547.7,441.4 549,441.8 550.4,442.2 551.8,442.6 553.2,443 554.6,443.4 555.9,443.6 557.3,443.8 558.7,444 560.1,444.1 561.4,444.3 562.8,444.5 564.2,444.7 565.6,444.9 567,445.1 568.3,445.2 569.7,445.4 571.1,445.6 572.5,445.8 573.9,446 575.2,446.2 576.6,446.4 578,446.5 579.4,446.7 580.7,446.9 582.1,447.1 583.5,447.2 584.9,447.4 586.3,447.6 587.6,447.7 589,447.9 590.4,448.1 591.8,448.2 593.1,448.4 594.5,448.5 595.9,448.7 597.3,448.9 598.7,449 600,449.1 601.4,449.2 602.8,449.3 604.2,449.4 605.5,449.5 606.9,449.6 608.3,449.7 609.7,449.8 611.1,449.9 612.4,450 613.8,450.1 615.2,450.2 616.6,450.2 617.9,450.2 619.3,450.3 620.7,450.3 622.1,450.3 623.5,450.4 624.8,450.4 626.2,450.4 627.6,450.5 629,450.5 630.3,450.5 631.7,450.5 633.1,450.6 634.5,450.6 635.9,450.6 637.2,450.6 638.6,450.7 640,450.7 641.4,450.7 642.8,450.7 644.1,450.7 645.5,450.7 646.9,450.7 648.3,450.7 649.6,450.7 651,450.7 652.4,450.7 653.8,450.7 655.2,450.7 656.5,450.8 657.9,450.8 659.3,450.8 660.7,450.8 662,450.8 663.4,450.8 664.8,450.8 666.2,450.8 667.6,450.8 668.9,450.8 670.3,450.8 671.7,450.8 673.1,450.8 674.4,450.9 675.8,450.9 677.2,450.9" fill="none" stroke="#5cb22e" stroke-width="2.0" stroke-linejoin="round" stroke-dasharray="6 3.6" stroke-linecap="butt"/>
<polyline points="401.6,417.2 402.7,416.7 403.8,416.8 404.9,417.7 406,417.7 407.1,417.8 408.2,417.4 409.3,418.1 410.4,420.4 411.5,424.4 412.6,426 413.7,429.1 414.8,429.2 415.9,428.3 417,427 418.1,425.3 419.2,423.4 420.3,422.1 421.4,420.3 422.5,418.8 423.6,418.6 424.8,421.3 425.9,423 427,427.1 428.1,431.2 429.2,434.2 430.3,435.3 431.4,436.8 432.5,438.2 433.6,438.7 434.7,439.1 435.8,440.3 436.9,441.2 438,441.2 439.1,441.4 440.2,442.3 441.3,442.3 442.4,442.4 443.5,443.4 444.6,444 445.7,443.9 446.8,444.3 447.9,444.2 449,445.5 450.1,445.4 451.2,445.7 452.3,446.3 453.4,445.6 454.5,445.6 455.6,446.4 456.7,445.6 457.8,445.9 458.9,446.2 460,446.4 461.1,446.3 462.2,447.5 463.3,446.7 464.4,446.8 465.5,448 466.6,447.2 467.7,447.6 468.8,447.2 469.9,447.9 471.1,447.8 472.2,447.7 473.3,448.4 474.4,447.8 475.5,448.2 476.6,448.1 477.7,448.6 478.8,448 479.9,448.3 481,448.8 482.1,448.5 483.2,448.3 484.3,448.2 485.4,449.8 486.5,448.7 487.6,448.9 488.7,449.2 489.8,449.7 490.9,448.7 492,449.9 493.1,449.1 494.2,448.8 495.3,450.1 496.4,449.6 497.5,450.1 498.6,449.4 499.7,448.8 500.8,448.6 501.9,450.4 503,449.9 504.1,449.4 505.2,449 506.3,449.6 507.4,450.1 508.5,449.7 509.6,449.9 510.7,450 511.8,450.3 512.9,449.8 514,449.8 515.1,450 516.2,450.1 517.4,450.6 518.5,450.2 519.6,449.5 520.7,450.1 521.8,450.7 522.9,449.4 524,449.8 525.1,449.1 526.2,450 527.3,450.3 528.4,450.8 529.5,449.5 530.6,448.9 531.7,450.5 532.8,450.4 533.9,449.9 535,450.5 536.1,450.3 537.2,450.3 538.3,450.1 539.4,449.7 540.5,450.2 541.6,449.8 542.7,450.4 543.8,450.1 544.9,451.2 546,450.9 547.1,449.9 548.2,450.5 549.3,450 550.4,450 551.5,449.7 552.6,449.9 553.7,449.8 554.8,450.4 555.9,450.6 557,450.7 558.1,450.6 559.2,450.9 560.3,450.6 561.4,450.4 562.6,450.3 563.7,450.5 564.8,451.3 565.9,450.4 567,450.3 568.1,449.9 569.2,450.1 570.3,450.7 571.4,450.7 572.5,449.5 573.6,450.1 574.7,449.6 575.8,449.4 576.9,450.8 578,450.3 579.1,450.2 580.2,450.2 581.3,450.2 582.4,450.3 583.5,450.4 584.6,451.1 585.7,450.5 586.8,450.8 587.9,450.4 589,450.7 590.1,450.2 591.2,450.1 592.3,450.3 593.4,450.3 594.5,450.4 595.6,450.7 596.7,450.5 597.8,450.7 598.9,450.3 600,450.5 601.1,450.2 602.2,451.1 603.3,450.1 604.4,450.8 605.5,450.8 606.6,450.6 607.7,450.8 608.9,450.4 610,450.8 611.1,451 612.2,450.9 613.3,449.9 614.4,450.5 615.5,451 616.6,450.5 617.7,451.2 618.8,449.7 619.9,451.2 621,450.3 622.1,450.3 623.2,451.2 624.3,450.4 625.4,450.1 626.5,450.3 627.6,450.4 628.7,450.1 629.8,450.5 630.9,450.4 632,450.6 633.1,450.3 634.2,451 635.3,450.2 636.4,450.8 637.5,451.1 638.6,450.4 639.7,449.8 640.8,450.1 641.9,450.8 643,450.2 644.1,450.8 645.2,450.6 646.3,450.5 647.4,451.6 648.5,450.5 649.6,451.1 650.7,450.9 651.8,451.3 652.9,451.3 654,451 655.2,450.2 656.3,449.8 657.4,450.6 658.5,450.1 659.6,450.7 660.7,451.5 661.8,450.5 662.9,450.4 664,450.8 665.1,450.5 666.2,450.3 667.3,451 668.4,451.3 669.5,450.7 670.6,450.7 671.7,450.8 672.8,450.2 673.9,449.8 675,450.8 676.1,450.3 677.2,450.2" fill="none" stroke="#5cb22e" stroke-width="2.0" stroke-linejoin="round" stroke-dasharray="3.6 2.4 1.5 2.4" stroke-linecap="butt"/>
<polyline points="401.6,415.7 402.4,416.6 403.3,416.5 404.1,415.1 404.9,419.8 405.7,417.7 406.6,419 407.4,416.8 408.2,415.7 409,417.9 409.9,416.9 410.7,420.9 411.5,417 412.3,419.7 413.2,415.5 414,418.2 414.8,417.9 415.7,419.6 416.5,418.2 417.3,418.4 418.1,419.9 419,419.7 419.8,419 420.6,419.9 421.4,419.7 422.3,419.2 423.1,420 423.9,417.7 424.8,421.8 425.6,417.2 426.4,420.4 427.2,419.6 428.1,420.8 428.9,418.7 429.7,419.4 430.5,418.7 431.4,420 432.2,418.7 433,416.5 433.8,418.9 434.7,419.2 435.5,415.9 436.3,417.7 437.2,415.5 438,415.3 438.8,416.3 439.6,417.6 440.5,413.5 441.3,412 442.1,413.3 442.9,410.7 443.8,409.4 444.6,411.4 445.4,406 446.2,404.8 447.1,404.6 447.9,402.7 448.7,401.4 449.6,397.3 450.4,400.6 451.2,398 452,394.9 452.9,396.5 453.7,393.8 454.5,389 455.3,383.7 456.2,381.9 457,384.9 457.8,381.8 458.6,374.5 459.5,373 460.3,370.1 461.1,365.7 462,362.8 462.8,364.8 463.6,360.8 464.4,365.2 465.3,362.1 466.1,355.4 466.9,353.6 467.7,352.1 468.6,350.8 469.4,348.2 470.2,346.6 471.1,354.8 471.9,346.4 472.7,341.3 473.5,340.6 474.4,347.7 475.2,332.6 476,341 476.8,336.6 477.7,333.2 478.5,330.3 479.3,338.9 480.1,325.6 481,331.7 481.8,333.4 482.6,329.7 483.5,337.5 484.3,328.2 485.1,326 485.9,330.1 486.8,326.8 487.6,326.1 488.4,325.2 489.2,321.1 490.1,326.4 490.9,325.7 491.7,321.9 492.5,316.2 493.4,327.8 494.2,321 495,330.4 495.9,315.4 496.7,321.6 497.5,317.7 498.3,324.3 499.2,326.6 500,317.4 500.8,320.4 501.6,326.9 502.5,327.4 503.3,318.7 504.1,323.6 505,311.4 505.8,328.1 506.6,324 507.4,322.9 508.3,330.4 509.1,325.8 509.9,316.9 510.7,327.9 511.6,328.2 512.4,330.9 513.2,323 514,325.6 514.9,327.9 515.7,330.6 516.5,327.5 517.4,328.6 518.2,333.6 519,327.5 519.8,341 520.7,334.8 521.5,332.4 522.3,333.4 523.1,338.6 524,331.7 524.8,331.2 525.6,335.2 526.4,335.8 527.3,333.5 528.1,336.5 528.9,342.8 529.8,337.5 530.6,333 531.4,345.3 532.2,337.8 533.1,341.6 533.9,343.6 534.7,343.9 535.5,339.7 536.4,340.7 537.2,341.5 538,348.9 538.8,342.7 539.7,342.2 540.5,341.6 541.3,344.3 542.2,344.4 543,344.5 543.8,346.9 544.6,353.7 545.5,349.6 546.3,354.4 547.1,360.6 547.9,356.8 548.8,344.5 549.6,360.8 550.4,361.9 551.3,355.4 552.1,350.3 552.9,358.6 553.7,356 554.6,359.4 555.4,358.7 556.2,354.8 557,358.4 557.9,361.6 558.7,358 559.5,358.9 560.3,364 561.2,361.7 562,362.8 562.8,366.4 563.7,360.1 564.5,366.8 565.3,367.6 566.1,371.1 567,369.3 567.8,361.4 568.6,373.1 569.4,366.2 570.3,370.8 571.1,367.9 571.9,368.9 572.7,373.6 573.6,371.3 574.4,371 575.2,371.8 576.1,372.7 576.9,373.8 577.7,371.2 578.5,370.4 579.4,373.8 580.2,377.3 581,373.3 581.8,375.7 582.7,374.7 583.5,371.5 584.3,379.1 585.1,377.2 586,380.3 586.8,378.3 587.6,380 588.5,374.1 589.3,380 590.1,381.8 590.9,374.6 591.8,386.1 592.6,377.9 593.4,379.7 594.2,381.4 595.1,383.7 595.9,383.1 596.7,384.3 597.6,381.5 598.4,391 599.2,384.3 600,384.4 600.9,387.2 601.7,390.3 602.5,385.7 603.3,388.6 604.2,384.8 605,384.9 605.8,389.1 606.6,393.5 607.5,388.1 608.3,391.6 609.1,387.6 610,386.8 610.8,391.3 611.6,386.6 612.4,389.5 613.3,391.5 614.1,395.1 614.9,391.9 615.7,396.5 616.6,389.9 617.4,394.1 618.2,390.8 619,394.5 619.9,399.1 620.7,392 621.5,393.4 622.4,392.3 623.2,398.9 624,397.4 624.8,395.5 625.7,398.9 626.5,399.2 627.3,398.6 628.1,391.1 629,400.8 629.8,399.8 630.6,398.7 631.5,398.4 632.3,396.2 633.1,398.1 633.9,398.5 634.8,400.3 635.6,399.9 636.4,401.9 637.2,403.5 638.1,395.9 638.9,403.3 639.7,398.9 640.5,402.7 641.4,401.5 642.2,401.9 643,404.5 643.9,401.2 644.7,401.2 645.5,400.7 646.3,401.8 647.2,400.7 648,402.6 648.8,402.9 649.6,406.7 650.5,402.8 651.3,399.6 652.1,403.9 652.9,401.8 653.8,404.3 654.6,404.8 655.4,399.3 656.3,404.3 657.1,401.2 657.9,403.9 658.7,405.1 659.6,408.5 660.4,403 661.2,407.7 662,408.1 662.9,401.3 663.7,404.6 664.5,404.8 665.3,406.1 666.2,406.2 667,405.6 667.8,406.7 668.7,407 669.5,406 670.3,412.5 671.1,404.9 672,409.8 672.8,406.6 673.6,407.1 674.4,411.2 675.3,407.5 676.1,408.6 676.9,411.4" fill="none" stroke="#5cb22e" stroke-width="2.0" stroke-linejoin="round" stroke-dasharray="0.01 3.9" stroke-linecap="round"/>
<path d="M401.6 279.1 V463.2 H677.3" fill="none" stroke="#000" stroke-width="1.7" stroke-linecap="square"/>
<line x1="401.6" y1="463.2" x2="401.6" y2="468.4" stroke="#000" stroke-width="1.7"/>
<text x="401.6" y="483.8" text-anchor="middle" font-size="13.3" fill="#111" stroke="#111" >0</text>
<line x1="470.5" y1="463.2" x2="470.5" y2="468.4" stroke="#000" stroke-width="1.7"/>
<text x="470.5" y="483.8" text-anchor="middle" font-size="13.3" fill="#111" stroke="#111" >5</text>
<line x1="539.4" y1="463.2" x2="539.4" y2="468.4" stroke="#000" stroke-width="1.7"/>
<path transform="translate(532.00,483.80) scale(0.00649,-0.00649)" d="M800 0H545V1020Q400 900 185 840V1080Q300 1120 410 1210Q520 1300 560 1409H800Z" fill="#111" stroke="#111" stroke-width="53.9" stroke-linejoin="round"/>
<text x="539.4" y="483.8" text-anchor="middle" font-size="13.3" fill="#111" stroke="#111" >&#8199;0</text>
<line x1="608.3" y1="463.2" x2="608.3" y2="468.4" stroke="#000" stroke-width="1.7"/>
<path transform="translate(600.90,483.80) scale(0.00649,-0.00649)" d="M800 0H545V1020Q400 900 185 840V1080Q300 1120 410 1210Q520 1300 560 1409H800Z" fill="#111" stroke="#111" stroke-width="53.9" stroke-linejoin="round"/>
<text x="608.3" y="483.8" text-anchor="middle" font-size="13.3" fill="#111" stroke="#111" >&#8199;5</text>
<line x1="677.2" y1="463.2" x2="677.2" y2="468.4" stroke="#000" stroke-width="1.7"/>
<text x="677.2" y="483.8" text-anchor="middle" font-size="13.3" fill="#111" stroke="#111" >20</text>
<line x1="396.4" y1="463.3" x2="401.6" y2="463.3" stroke="#000" stroke-width="1.7"/>
<text x="394.6" y="467.9" text-anchor="end" font-size="13.3" fill="#111" stroke="#111" >0</text>
<line x1="396.4" y1="417.2" x2="401.6" y2="417.2" stroke="#000" stroke-width="1.7"/>
<path transform="translate(372.41,421.85) scale(0.00649,-0.00649)" d="M800 0H545V1020Q400 900 185 840V1080Q300 1120 410 1210Q520 1300 560 1409H800Z" fill="#111" stroke="#111" stroke-width="53.9" stroke-linejoin="round"/>
<text x="394.6" y="421.9" text-anchor="end" font-size="13.3" fill="#111" stroke="#111" >&#8199;00</text>
<line x1="396.4" y1="371.2" x2="401.6" y2="371.2" stroke="#000" stroke-width="1.7"/>
<text x="394.6" y="375.8" text-anchor="end" font-size="13.3" fill="#111" stroke="#111" >200</text>
<line x1="396.4" y1="325.1" x2="401.6" y2="325.1" stroke="#000" stroke-width="1.7"/>
<text x="394.6" y="329.8" text-anchor="end" font-size="13.3" fill="#111" stroke="#111" >300</text>
<line x1="396.4" y1="279.1" x2="401.6" y2="279.1" stroke="#000" stroke-width="1.7"/>
<text x="394.6" y="283.7" text-anchor="end" font-size="13.3" fill="#111" stroke="#111" >400</text>
<text x="543.8" y="501.4" text-anchor="middle" font-size="13.3" fill="#111" stroke="#111" >t (min)</text>
<text stroke="#111" fill="#111" transform="translate(362.5,440.4) rotate(-90)" font-size="14.5" letter-spacing="0.3">% baseline avergae</text>
<text x="350.8" y="270.6" text-anchor="start" font-size="20" fill="#111" stroke="#111" >d</text>
<line x1="547" y1="266.7" x2="568" y2="266.7" stroke="#5cb22e" stroke-width="1.8" stroke-dasharray="1.7 4.1"/>
<line x1="547" y1="287.2" x2="568" y2="287.2" stroke="#5cb22e" stroke-width="2.0" stroke-dasharray="5 4"/>
<line x1="547" y1="307.7" x2="568" y2="307.7" stroke="#5cb22e" stroke-width="2.0" stroke-dasharray="5 4.1 1.6 4.1"/>
<line x1="547" y1="328.4" x2="568" y2="328.4" stroke="#5cb22e" stroke-width="2.0" />
<text stroke="#111" fill="#111" x="573.5" y="271.4" font-size="13.3">[Ca<tspan font-size="8.7" dx="0.6" dy="-9.6">2+</tspan><tspan dx="1.6" dy="9.6">]</tspan><tspan font-size="9.6" dy="2.2">cyt</tspan></text>
<text stroke="#111" fill="#111" x="574.0" y="292.2" font-size="13.3">O<tspan font-size="8.7" dy="3.2">2</tspan><tspan dx="1.5" dy="-3.2"> consumption</tspan></text>
<text stroke="#111" fill="#111" x="573.5" y="311.8" font-size="13.3">[Ca<tspan font-size="8.7" dx="0.6" dy="-9.6">2+</tspan><tspan dx="1.6" dy="9.6">]</tspan><tspan font-size="9.6" dy="2.2">mito</tspan></text>
<text stroke="#111" fill="#111" x="573.5" y="333.2" font-size="13.3">&#916;&#936;<tspan font-size="9.4" dy="3.4">m</tspan></text>
</svg>
</body></html>
